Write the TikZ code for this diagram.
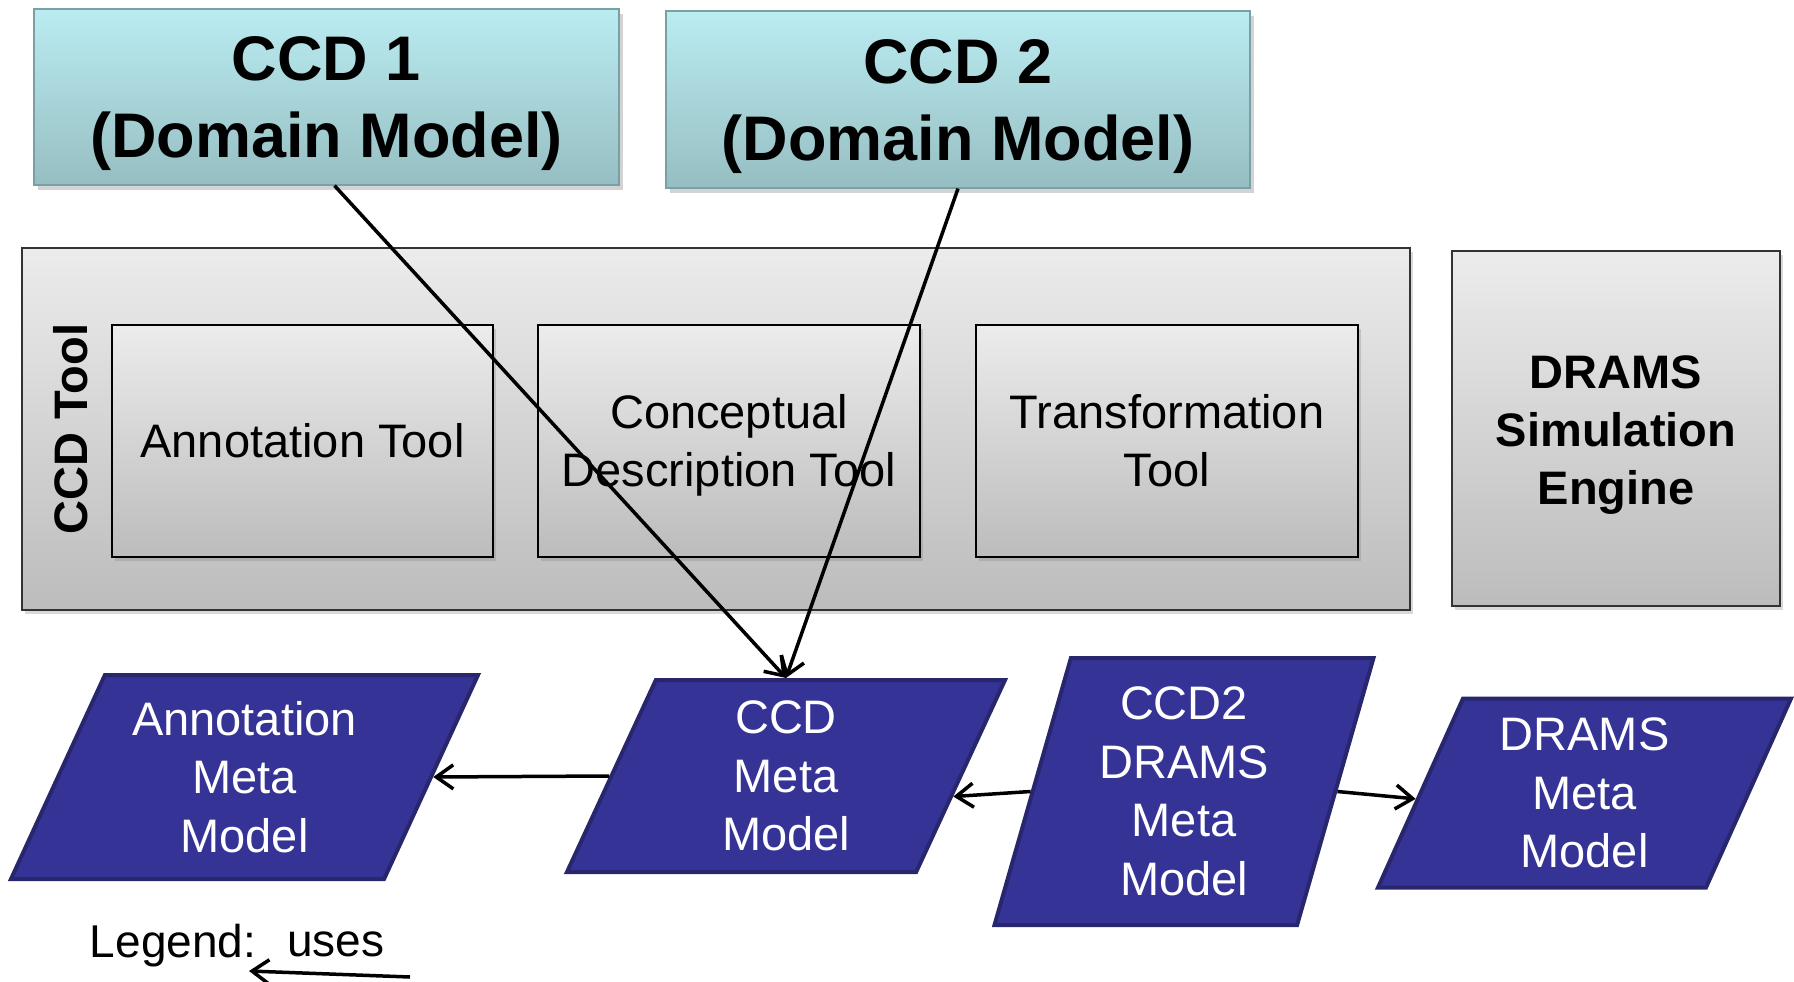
\documentclass[tikz,border=0pt]{standalone}
\usepackage{fontspec}
\setmainfont{Liberation Sans}
\usetikzlibrary{shapes.geometric, arrows.meta, shadows}

\begin{document}
\begin{tikzpicture}[
        x=1pt, y=-1pt,
        domain_box/.style={rectangle, draw=domainborder, line width=1.2pt, top color=domaintop, bottom color=domainbottom, font=\fontsize{63}{77}\selectfont\bfseries, align=center, inner sep=0pt, drop shadow={shadow xshift=4pt, shadow yshift=-5pt, opacity=0.35}},
        frame_box/.style={rectangle, draw=black!80, line width=1.5pt, top color=tooltop, bottom color=toolbottom, inner sep=0pt, drop shadow={shadow xshift=3pt, shadow yshift=-4pt, opacity=0.3}},
        tool_box/.style={rectangle, draw=black, line width=2pt, top color=tooltop, bottom color=toolbottom, font=\fontsize{47}{58}\selectfont, align=center, inner sep=0pt, drop shadow={shadow xshift=3pt, shadow yshift=-4pt, opacity=0.3}},
        meta_model/.style={trapezium, trapezium stretches body, draw=metaborder, line width=4pt, fill=metafill, text=white, font=\fontsize{47}{58.5}\selectfont, align=center, inner sep=0pt},
        label_node/.style={font=\fontsize{46}{56}\selectfont},
        uses/.style={line width=3.5pt, -{Straight Barb[length=17pt, width=24pt, line width=3.5pt]}}
    ]

        \definecolor{domaintop}{RGB}{186, 236, 241}
        \definecolor{domainbottom}{RGB}{150, 190, 194}
        \definecolor{domainborder}{RGB}{120, 160, 165}
        \definecolor{tooltop}{RGB}{236, 236, 236}
        \definecolor{toolbottom}{RGB}{188, 188, 188}
        \definecolor{metafill}{RGB}{53, 51, 150}
        \definecolor{metaborder}{RGB}{40, 39, 110}

        \useasboundingbox (0,0) rectangle (1794,982);

        \node[domain_box, minimum width=585pt, minimum height=176pt] (ccd1) at (326.5, 97) {\rule{0pt}{58pt}CCD 1\\(Domain Model)};
        \node[domain_box, minimum width=584pt, minimum height=177pt] (ccd2) at (958, 99.5) {\rule{0pt}{58pt}CCD 2\\(Domain Model)};

        \node[frame_box, minimum width=1388pt, minimum height=362pt] (ccd_tool) at (716, 429) {};
        \node[font=\fontsize{47}{56}\selectfont\bfseries, rotate=90] (ccd_tool_label) at (71, 429) {CCD Tool};

        \node[tool_box, minimum width=381pt, minimum height=232pt] (annot_tool) at (302.5, 441) {Annotation Tool};
        \node[tool_box, minimum width=382pt, minimum height=232pt] (concept_tool) at (729, 441) {\rule{0pt}{42pt}Conceptual\\Description Tool};
        \node[tool_box, minimum width=382pt, minimum height=232pt] (transf_tool) at (1167, 441) {Transformation\\Tool};

        \node[frame_box, minimum width=328pt, minimum height=355pt, font=\fontsize{47}{58}\selectfont\bfseries, align=center] (drams_engine) at (1616, 428.5) {\rule{0pt}{46pt}DRAMS\\Simulation\\Engine};

        \node[meta_model, trapezium left angle=58.2, trapezium right angle=121.8, minimum width=467pt, minimum height=204pt] (annot_meta) at (244.5, 777) {Annotation\\Meta\\Model};
        \node[meta_model, trapezium left angle=59.4, trapezium right angle=120.6, minimum width=438pt, minimum height=192pt] (ccd_meta) at (786, 776) {CCD\\Meta\\Model};
        \node[meta_model, trapezium left angle=69.9, trapezium right angle=110.1, minimum width=379pt, minimum height=267pt] (c2d_meta) at (1184, 791.5) {CCD2\\DRAMS\\Meta\\Model};
        \node[meta_model, trapezium left angle=60.5, trapezium right angle=119.5, minimum width=413pt, minimum height=189pt] (drams_meta) at (1584.5, 793) {DRAMS\\Meta\\Model};

        \draw[uses] ([xshift=8pt]ccd1.south) -- (ccd_meta.center |- ccd_meta.north);
        \draw[uses] (ccd2.south) -- (ccd_meta.center |- ccd_meta.north);
        \draw[uses] (ccd_meta.west) -- (annot_meta.east);
        \draw[uses] (c2d_meta.west) -- (ccd_meta.-7);
        \draw[uses] (c2d_meta.east) -- (drams_meta.182);

        \node[label_node] (legend) at (173, 946) {Legend:};
        \node[label_node] (uses_text) at (336, 944) {uses};
        \coordinate (legend_from) at (410, 977);
        \coordinate (legend_to) at (249, 971);
        \draw[uses] (legend_from) -- (legend_to);
    \end{tikzpicture}
\end{document}
